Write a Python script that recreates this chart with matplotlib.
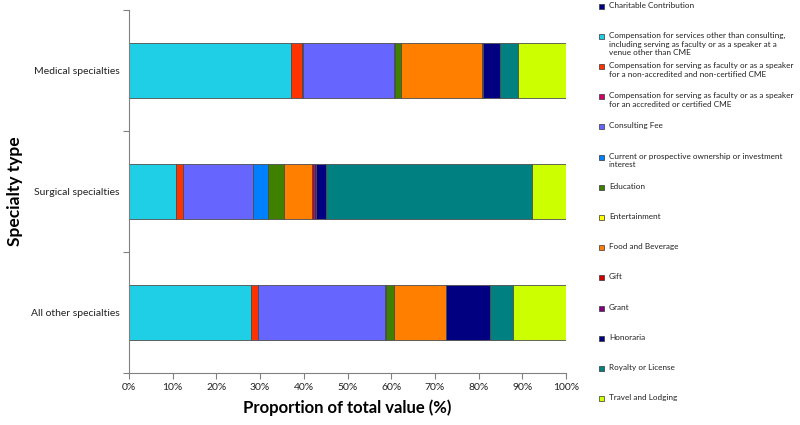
import matplotlib
matplotlib.use("Agg")
import matplotlib.pyplot as plt
import numpy as np
from matplotlib.patches import Rectangle

plt.rcParams['font.family'] = ['Lato', 'DejaVu Sans']

# -------------------------------
# Data (% of total value)
# -------------------------------
specialties = ["Medical specialties", "Surgical specialties", "All other specialties"]

payment_types = [
    "Charitable Contribution",
    "Compensation for services other than consulting,\nincluding serving as faculty or as a speaker at a\nvenue other than CME",
    "Compensation for serving as faculty or as a speaker\nfor a non-accredited and non-certified CME",
    "Compensation for serving as faculty or as a speaker\nfor an accredited or certified CME",
    "Consulting Fee",
    "Current or prospective ownership or investment\ninterest",
    "Education",
    "Entertainment",
    "Food and Beverage",
    "Gift",
    "Grant",
    "Honoraria",
    "Royalty or License",
    "Travel and Lodging",
]

colors = ["#000080", "#1ECFE6", "#FF3300", "#CC0066", "#6666FF", "#0080FF", "#408000",
          "#FFFF00", "#FF8000", "#CC0000", "#800080", "#000080", "#008080", "#CCFF00"]

medical = [0, 37.0, 2.6, 0.1, 20.9, 0.3, 1.4, 0, 18.5, 0.1, 0, 4.1, 4.1, 10.9]
surgical = [0, 10.7, 1.7, 0, 15.9, 3.5, 3.6, 0, 6.5, 0.4, 0.5, 2.2, 47.3, 7.7]
all_other = [0, 27.8, 1.8, 0, 29.0, 0.3, 1.7, 0, 11.9, 0.1, 0, 10.1, 5.2, 12.1]

values = np.array([medical, surgical, all_other])

# -------------------------------
# Plot
# -------------------------------
fig = plt.figure(figsize=(8, 4.25), dpi=100)
ax = fig.add_axes([0.1613, 0.1224, 0.5462, 0.8541])

y = np.arange(len(specialties))
left = np.zeros(len(specialties))
for i, name in enumerate(payment_types):
    ax.barh(y, values[:, i], left=left, height=0.46, color=colors[i],
            edgecolor="#4d4d4d", linewidth=0.6)
    left += values[:, i]

ax.set_xlim(0, 100)
ax.set_ylim(2.5, -0.5)
ax.set_xticks(np.arange(0, 101, 10))
ax.set_xticklabels([f"{v}%" for v in range(0, 101, 10)], fontsize=7.5, color="#222222")
ax.set_yticks([-0.5, 0.5, 1.5, 2.5])
ax.set_yticklabels([])
ax.set_yticks(y, minor=True)
ax.set_yticklabels(specialties, minor=True, fontsize=7.5, color="#222222")
ax.tick_params(axis="y", which="minor", length=0, pad=7)
ax.tick_params(axis="y", which="major", length=4, color="#808080")
ax.tick_params(axis="x", length=4, color="#808080", pad=3)

for s in ["top", "right"]:
    ax.spines[s].set_visible(False)
for s in ["left", "bottom"]:
    ax.spines[s].set_color("#808080")

ax.set_xlabel("Proportion of total value (%)", fontsize=12, fontweight="bold")
ax.set_ylabel("Specialty type", fontsize=12.5, fontweight="bold")
ax.xaxis.set_label_coords(0.5, -0.072)
ax.yaxis.set_label_coords(-0.243, 0.5)

# Legend drawn manually (Excel-like fixed spacing)
W, H = 800, 425
for i, name in enumerate(payment_types):
    yc = 6 + i * 30.2
    fig.add_artist(Rectangle(((601.5 - 2.5) / W, 1 - (yc + 2.5) / H), 5 / W, 5 / H,
                             transform=fig.transFigure, facecolor=colors[i],
                             edgecolor="#333333", linewidth=0.5))
    fig.text(609 / W, 1 - (yc - 4.5) / H, name, fontsize=5.9, va="top", ha="left",
             linespacing=1.3, color="#222222")

fig.savefig("out.png", dpi=100)
